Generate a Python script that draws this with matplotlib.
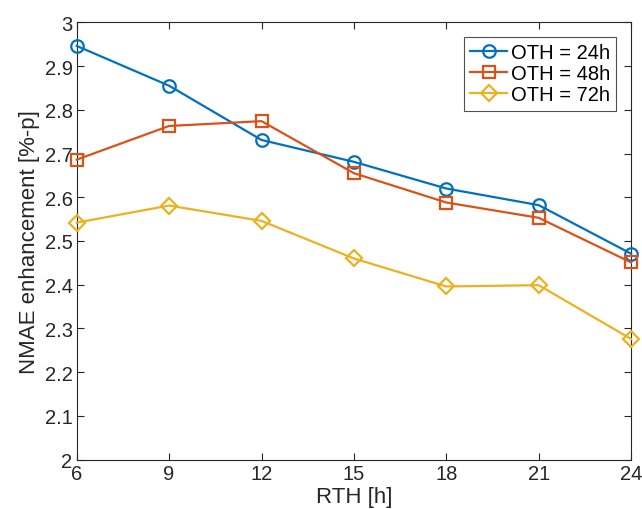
import matplotlib
matplotlib.use("Agg")
import matplotlib.pyplot as plt

plt.rcParams['font.family'] = ['Liberation Sans', 'DejaVu Sans']

rth = [6, 9, 12, 15, 18, 21, 24]
oth24 = [2.946, 2.855, 2.731, 2.681, 2.620, 2.582, 2.471]
oth48 = [2.686, 2.763, 2.774, 2.655, 2.588, 2.553, 2.451]
oth72 = [2.542, 2.581, 2.546, 2.460, 2.396, 2.399, 2.276]
labels = ['OTH = 24h', 'OTH = 48h', 'OTH = 72h']
colors = ['#0072BD', '#D95319', '#EDB120']
markers = ['o', 's', 'D']
msizes = [9, 8, 8.5]

fig = plt.figure(figsize=(6.42, 5.10), dpi=100)
ax = fig.add_axes([0.1195, 0.0967, 0.8635, 0.8576])

for ys, lab, c, m, ms in zip([oth24, oth48, oth72], labels, colors, markers, msizes):
    ax.plot(rth, ys, color=c, marker=m, markersize=ms, markerfacecolor='none',
            markeredgewidth=1.6, linewidth=1.6, label=lab, clip_on=False, zorder=3)

ax.set_xlim(6, 24)
ax.set_ylim(2, 3)
ax.set_xticks(rth)
ax.set_xticklabels([str(v) for v in rth])
yt = [2 + 0.1 * i for i in range(11)]
ax.set_yticks(yt)
ax.set_yticklabels(['2', '2.1', '2.2', '2.3', '2.4', '2.5', '2.6', '2.7', '2.8', '2.9', '3'])
ax.tick_params(direction='in', top=True, right=True, length=5, width=0.8,
               labelsize=14.5, colors='#262626', pad=3)
for s in ax.spines.values():
    s.set_color('#262626')
    s.set_linewidth(0.8)
ax.set_xlabel('RTH [h]', fontsize=16, color='#262626', labelpad=2)
ax.set_ylabel('NMAE enhancement [%-p]', fontsize=16, color='#262626', labelpad=3)

leg = ax.legend(loc='upper right', fontsize=14.5, frameon=True, fancybox=False,
                edgecolor='#262626', borderpad=0.3, labelspacing=0.1,
                handlelength=1.8, handletextpad=0.2, borderaxespad=0.75)
leg.get_frame().set_linewidth(0.8)

fig.savefig('out.png', dpi=100)
